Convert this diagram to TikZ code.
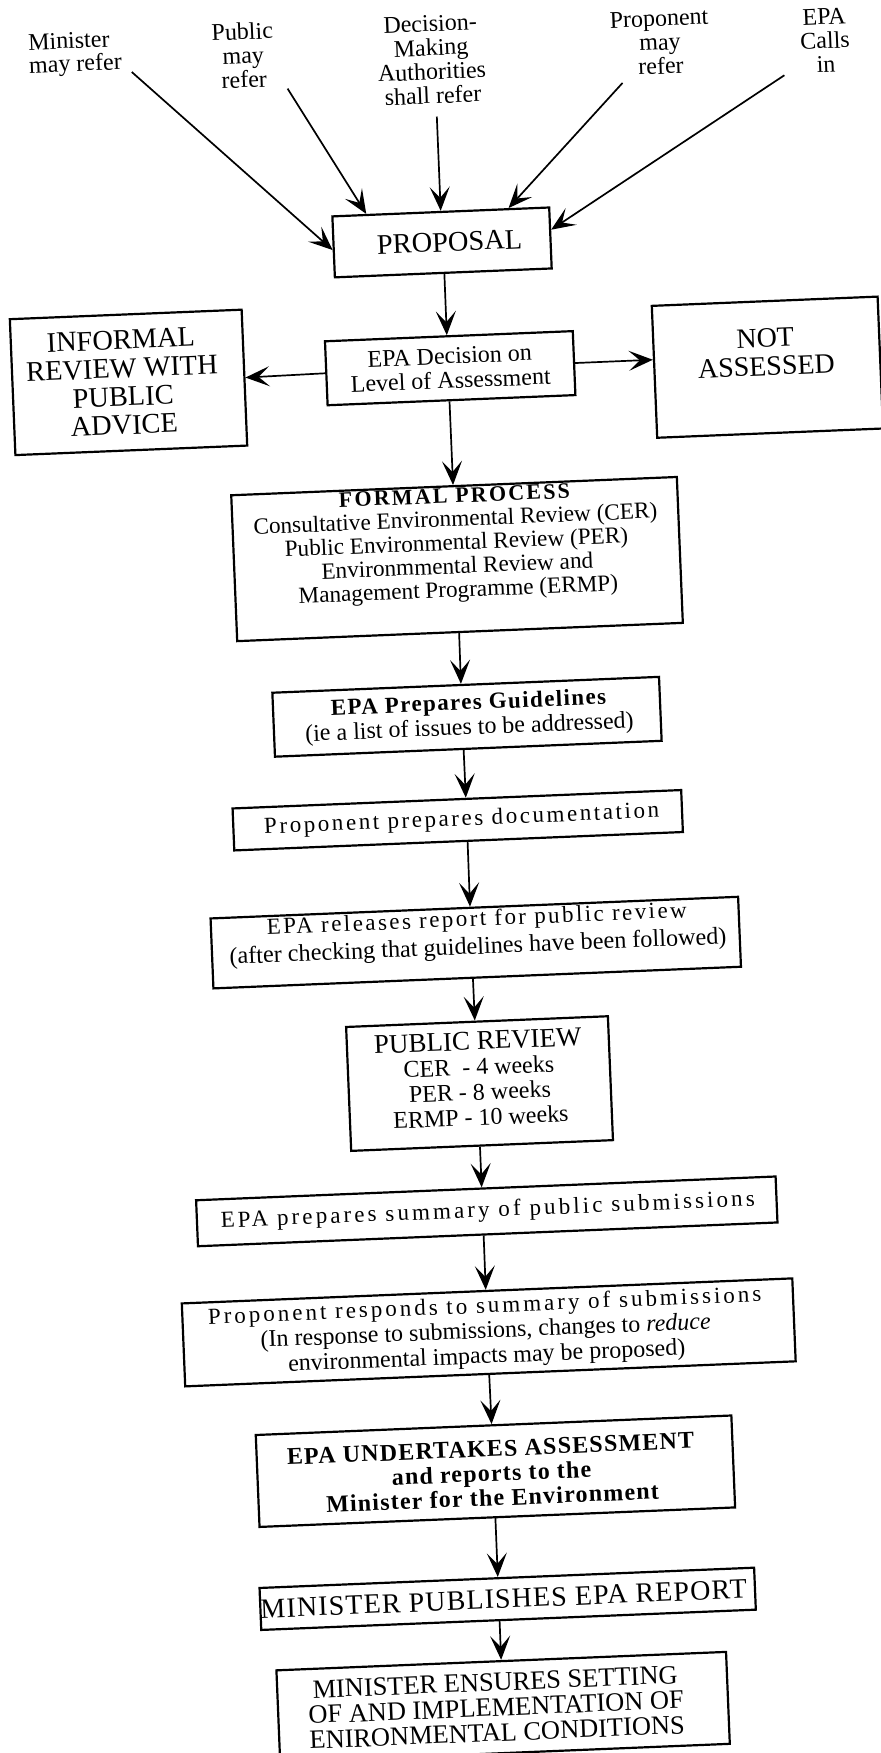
\documentclass[tikz,border=0pt]{standalone}
\usepackage{fontspec}
\setmainfont{Liberation Serif}
\usetikzlibrary{arrows.meta,calc}
\newcommand\lsp[1]{\addfontfeature{LetterSpace=#1}}
\newcommand\fs[2]{\fontsize{#1}{#2}\selectfont}
\tikzset{
  box/.style={draw, line width=1.1pt, inner sep=0pt},
  txt/.style={align=center, inner sep=0pt},
  lbl/.style={align=center, inner sep=0pt, font=\fs{12}{12}},
  arr/.style={line width=0.85pt, -{Stealth[length=12pt,width=10pt,inset=5.5pt]}},
}
\begin{document}
\begin{tikzpicture}[x=0.5pt,y=-0.5pt]
\path[use as bounding box, fill=white] (0,0) rectangle (880,1753);
\begin{scope}[rotate around={2.35:(440,876)}, transform shape]
% source labels
\node[lbl, align=left, font=\fs{12}{11.5}] (minL) at (109,40) {Minister\\may refer};
\node[lbl] (pubL) at (277,48) {Public\\may\\refer};
\node[lbl] (decL) at (465,60) {Decision-\\Making\\Authorities\\shall refer};
\node[lbl] (proL) at (694,52) {Proponent\\may\\refer};
\node[lbl] (epaL) at (859,57) {EPA\\Calls\\in};
% boxes
\node[box, minimum width=108.5pt, minimum height=30.5pt] (prop) at (468,243) {};
\node[txt, font=\fs{14.2}{15}] (propT) at (475.5,243) {PROPOSAL};

\node[box, minimum width=124pt, minimum height=32pt] (dec) at (471,369) {};
\node[txt, font=\fs{12}{12.3}] (decT) at (471,369) {EPA Decision on\\Level of Assessment};

\node[box, minimum width=116pt, minimum height=68pt] (inf) at (149,370) {};
\node[txt, font=\fs{14.2}{14.2}] (infT) at (143,370) {INFORMAL\\REVIEW WITH\\PUBLIC\\ADVICE};

\node[box, minimum width=113pt, minimum height=66pt] (nas) at (788,381) {};
\node[txt, font=\fs{14}{14}] (nasT) at (787,366) {NOT\\ASSESSED};

\node[box, minimum width=223pt, minimum height=73pt] (formal) at (470,560) {};
\node[txt, font=\fs{11.6}{11.8}] (formalT) at (470,546) {{\bfseries\fontsize{11}{11}\selectfont\lsp{10}FORMAL PROCESS}\\Consultative Environmental Review (CER)\\Public Environmental Review (PER)\\Environmmental Review and\\Management Programme (ERMP)};

\node[box, minimum width=193.5pt, minimum height=32pt] (guide) at (473.5,718) {};
\node[txt, font=\fs{12}{12.5}] (guideT) at (475.5,718) {{\bfseries\fontsize{11.5}{12}\selectfont\lsp{6}EPA Prepares Guidelines}\\(ie a list of issues to be addressed)};

\node[box, minimum width=224.5pt, minimum height=21pt] (prep) at (460,821) {};
\node[txt, font={\fs{11.5}{12}\lsp{11.2}}] (prepT) at (464,821) {Proponent prepares documentation};

\node[box, minimum width=264pt, minimum height=35pt] (rel) at (473,944) {};
\node[txt, font=\fs{12.1}{14}] (relT) at (475,936) {{\fontsize{11.5}{12}\selectfont\lsp{10.6}EPA releases report for public review}\\(after checking that guidelines have been followed)};

\node[box, minimum width=131pt, minimum height=62pt] (rev) at (471,1085) {};
\node[txt, font=\fs{12}{12.6}] (revT) at (471,1080) {{\fontsize{13.5}{13.5}\selectfont PUBLIC REVIEW}\\CER\ \ - 4 weeks\\PER - 8 weeks\\ERMP - 10 weeks};

\node[box, minimum width=290pt, minimum height=23pt] (sum) at (473,1213) {};
\node[txt, font={\fs{11.5}{12}\lsp{13.5}}] (sumT) at (474,1213) {EPA prepares summary of public submissions};

\node[box, minimum width=305.5pt, minimum height=41.5pt] (resp) at (470,1334) {};
\node[txt, font=\fs{12}{12.6}] (respT) at (467,1334) {{\fontsize{11.5}{12}\selectfont\lsp{13}Proponent responds to summary of submissions}\\(In response to submissions, changes to \textit{reduce}\\environmental impacts may be proposed)};

\node[box, minimum width=238pt, minimum height=46pt] (ass) at (471,1473) {};
\node[txt, font={\bfseries\fs{12}{12.3}\lsp{5}}] (assT) at (467,1475) {EPA UNDERTAKES ASSESSMENT\\and reports to the\\Minister for the Environment};

\node[box, minimum width=247.5pt, minimum height=21pt] (pub) at (478,1601) {};
\node[txt, font={\fs{14}{14}\lsp{4}}] (pubT) at (474,1601) {MINISTER PUBLISHES EPA REPORT};

\node[box, minimum width=225pt, minimum height=46pt] (ens) at (469,1709) {};
\node[txt, font=\fs{13.2}{12.6}] (ensT) at (462,1709) {MINISTER ENSURES SETTING\\OF AND IMPLEMENTATION OF\\ENIRONMENTAL CONDITIONS};

% referral arrows
\coordinate (mS) at (165,60);
\coordinate (pS) at (320,83);
\coordinate (dS) at (468,117);
\coordinate (oS) at (655,91);
\coordinate (eS) at (817,90);
\draw[arr] (mS) -- ($(prop.north west)!0.55!(prop.south west)$);
\draw[arr] (pS) -- ($(prop.north west)!0.16!(prop.north east)$);
\draw[arr] (dS) -- (prop.north);
\draw[arr] (oS) -- ($(prop.north west)!0.81!(prop.north east)$);
\draw[arr] (eS) -- ($(prop.north east)!0.37!(prop.south east)$);

% main flow
\draw[arr] ($(prop.south west)!0.505!(prop.south east)$) -- ($(dec.north west)!0.492!(dec.north east)$);
\draw[arr] (dec.west) -- (inf.east);
\draw[arr] (dec.east) -- ($(nas.north west)!0.41!(nas.south west)$);
\draw[arr] ($(dec.south west)!0.492!(dec.south east)$) -- ($(formal.north west)!0.498!(formal.north east)$);
\draw[arr] ($(formal.south west)!0.498!(formal.south east)$) -- ($(guide.north west)!0.488!(guide.north east)$);
\draw[arr] ($(guide.south west)!0.488!(guide.south east)$) -- ($(prep.north west)!0.52!(prep.north east)$);
\draw[arr] ($(prep.south west)!0.52!(prep.south east)$) -- ($(rel.north west)!0.492!(rel.north east)$);
\draw[arr] ($(rel.south west)!0.492!(rel.south east)$) -- ($(rev.north west)!0.492!(rev.north east)$);
\draw[arr] ($(rev.south west)!0.492!(rev.south east)$) -- ($(sum.north west)!0.493!(sum.north east)$);
\draw[arr] ($(sum.south west)!0.493!(sum.south east)$) -- ($(resp.north west)!0.498!(resp.north east)$);
\draw[arr] ($(resp.south west)!0.498!(resp.south east)$) -- ($(ass.north west)!0.496!(ass.north east)$);
\draw[arr] ($(ass.south west)!0.496!(ass.south east)$) -- ($(pub.north west)!0.482!(pub.north east)$);
\draw[arr] ($(pub.south west)!0.482!(pub.south east)$) -- ($(ens.north west)!0.5!(ens.north east)$);
\end{scope}
\end{tikzpicture}
\end{document}
